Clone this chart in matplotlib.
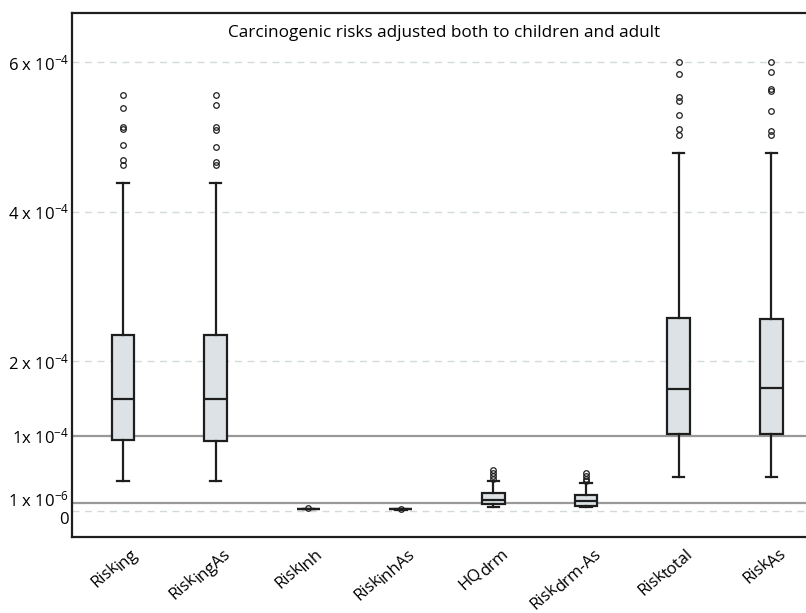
#!/usr/bin/env python3
import matplotlib
matplotlib.use('Agg')
import matplotlib.pyplot as plt
import matplotlib.transforms as mtransforms
from matplotlib.font_manager import FontProperties
import numpy as np

plt.rcParams['font.family'] = ['Open Sans', 'DejaVu Sans']
plt.rcParams['mathtext.default'] = 'regular'

# box statistics, in units of 1e-4
main_names = ['Risk', 'Risk', 'Risk', 'Risk', 'HQ', 'Risk', 'Risk', 'Risk']
sub_names = ['ing', 'ingAs', 'Inh', 'inhAs', 'drm', 'drm-As', 'total', 'As']
whislo = [0.40, 0.40, 0.016, 0.012, 0.044, 0.044, 0.45, 0.45]
q1 = [0.947, 0.933, 0.020, 0.016, 0.090, 0.067, 1.022, 1.022]
med = [1.49, 1.49, 0.022, 0.018, 0.143, 0.134, 1.63, 1.638]
q3 = [2.353, 2.348, 0.024, 0.020, 0.232, 0.214, 2.575, 2.562]
whishi = [4.38, 4.38, 0.028, 0.024, 0.392, 0.366, 4.785, 4.785]
fliers = [
    [5.56, 5.39, 5.13, 5.10, 4.89, 4.69, 4.63],
    [5.56, 5.43, 5.13, 5.09, 4.87, 4.67, 4.62],
    [0.03],
    [0.025],
    [0.545, 0.509, 0.469, 0.429],
    [0.509, 0.469, 0.429, 0.402],
    [6.00, 5.84, 5.53, 5.48, 5.29, 5.10, 5.02],
    [6.00, 5.87, 5.64, 5.61, 5.34, 5.08, 5.02],
]

tick_vals = [0, 0.103, 1, 2, 4, 6]
tick_text = ['0', r'1 x 10$^{-6}$', r'1x 10$^{-4}$', r'2 x 10$^{-4}$',
             r'4 x 10$^{-4}$', r'6 x 10$^{-4}$']
grid_vals = [0, 2, 4, 6]
limit_lines = [0.103, 1]

title = 'Carcinogenic risks adjusted both to children and adult'

fs = 12
dark = '#1e1e1e'

fig = plt.figure(figsize=(8.06, 6.13), dpi=100)
ax = fig.add_axes([0.0893, 0.1235, 0.9107, 0.8545])

for g in grid_vals:
    ax.axhline(g, color='#d3dada', linestyle=(0, (5, 4)), linewidth=1.0, zorder=0)
for l in limit_lines:
    ax.axhline(l, color='#999999', linewidth=1.6, zorder=1)

stats = []
for i in range(len(sub_names)):
    stats.append(dict(whislo=whislo[i], q1=q1[i], med=med[i], q3=q3[i],
                      whishi=whishi[i], fliers=fliers[i]))

positions = np.arange(1, len(sub_names) + 1)
ax.bxp(stats, positions=positions, widths=0.245,
       patch_artist=True, manage_ticks=False,
       boxprops=dict(facecolor='#dce2e5', edgecolor=dark, linewidth=1.6),
       medianprops=dict(color=dark, linewidth=1.6),
       whiskerprops=dict(color=dark, linewidth=1.6),
       capprops=dict(color=dark, linewidth=1.6),
       flierprops=dict(marker='o', markersize=4, markerfacecolor='none',
                       markeredgecolor=dark, markeredgewidth=0.9),
       zorder=3)

ax.set_xlim(0.449, 8.375)
ax.set_ylim(-0.356, 6.65)

ax.set_yticks(tick_vals)
ax.set_yticklabels(tick_text, fontsize=fs)
ax.tick_params(axis='both', length=0, pad=2)
ax.set_xticks(positions)
ax.set_xticklabels([])

# nudge the two crowded labels near zero apart
ylabels = ax.get_yticklabels()
ylabels[0].set_va('top')
ylabels[0].set_transform(ylabels[0].get_transform() +
                         mtransforms.ScaledTranslation(0, -1 / 72, fig.dpi_scale_trans))
ylabels[1].set_transform(ylabels[1].get_transform() +
                         mtransforms.ScaledTranslation(0, 3 / 72, fig.dpi_scale_trans))

ax.spines['right'].set_visible(False)
for s in ['left', 'top', 'bottom']:
    ax.spines[s].set_linewidth(1.6)
    ax.spines[s].set_color(dark)

ax.text(0.507, 0.962, title, transform=ax.transAxes, ha='center', va='center',
        fontsize=12.3)

# x labels: main name followed by a lowered subscript of nearly the same size
angle = 42
ca, sa = np.cos(np.radians(angle)), np.sin(np.radians(angle))
renderer = fig.canvas.get_renderer()
fp = FontProperties(family=['Open Sans', 'DejaVu Sans'], size=fs)
drop = 3.0           # points
end_dx, end_dy = 11.0, -13.0   # points, from tick at axis bottom
for x, m, s in zip(positions, main_names, sub_names):
    w, h, d = renderer.get_text_width_height_descent(s, fp, ismath=False)
    w = w * 72 / fig.dpi - 0.8
    ax.annotate(s, xy=(x, 0), xycoords=('data', 'axes fraction'),
                xytext=(end_dx, end_dy), textcoords='offset points',
                ha='right', va='baseline', rotation=angle,
                rotation_mode='anchor', fontsize=fs, annotation_clip=False)
    mx = end_dx - w * ca - drop * sa
    my = end_dy - w * sa + drop * ca
    ax.annotate(m, xy=(x, 0), xycoords=('data', 'axes fraction'),
                xytext=(mx, my), textcoords='offset points',
                ha='right', va='baseline', rotation=angle,
                rotation_mode='anchor', fontsize=fs, annotation_clip=False)

fig.savefig('out.png', dpi=100)
